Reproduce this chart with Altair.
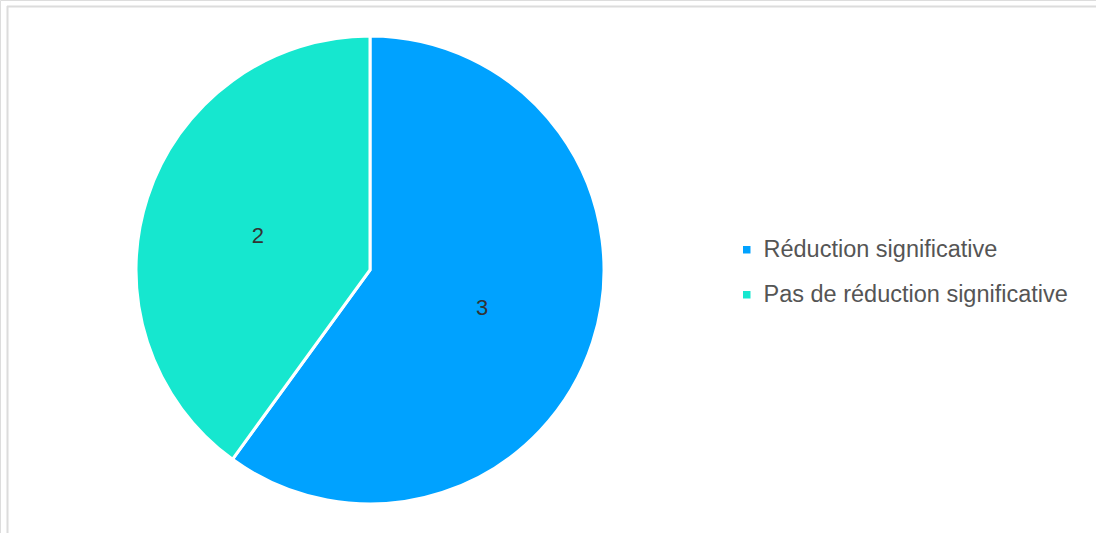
import altair as alt
import pandas as pd

categories = ["Réduction significative", "Pas de réduction significative"]
values = [3, 2]
colors = ["#00A2FF", "#16E7CF"]

df = pd.DataFrame({"category": categories, "value": values, "order": [0, 1]})
frame = pd.DataFrame({"a": [0]})

CX, CY, R = 370, 270, 234
FONT = "Liberation Sans"

base = alt.Chart(df).encode(
    theta=alt.Theta("value:Q", stack=True),
    order=alt.Order("order:Q"),
)

pie = base.mark_arc(x=CX, y=CY, radius=R, stroke="white", strokeWidth=3).encode(
    color=alt.Color(
        "category:N",
        scale=alt.Scale(domain=categories, range=colors),
        sort=categories,
        legend=alt.Legend(
            title=None,
            orient="none",
            legendX=735,
            legendY=238,
            symbolType="square",
            symbolSize=56,
            symbolStrokeWidth=0,
            labelFontSize=23.5,
            labelFont=FONT,
            labelColor="#555555",
            labelOffset=5,
            rowPadding=20,
            labelLimit=500,
        ),
    )
)

labels = base.mark_text(x=CX, y=CY, radius=118, dy=2, fontSize=22, font=FONT, color="#333333").encode(
    text="value:Q"
)

top_rule = alt.Chart(frame).mark_rule(color="#dcdcdc", strokeWidth=2).encode(
    x=alt.value(7), x2=alt.value(1096), y=alt.value(6.5)
)
left_rule = alt.Chart(frame).mark_rule(color="#dcdcdc", strokeWidth=2).encode(
    x=alt.value(7.5), y=alt.value(6), y2=alt.value(533)
)

chart = alt.layer(top_rule, left_rule, pie, labels).properties(
    width=1096, height=533, padding=0, autosize=alt.AutoSizeParams(type="none")
).configure_view(stroke="transparent", strokeWidth=0).configure(background="white")

chart.save("out.html", embed_options={"renderer": "svg", "actions": False})
